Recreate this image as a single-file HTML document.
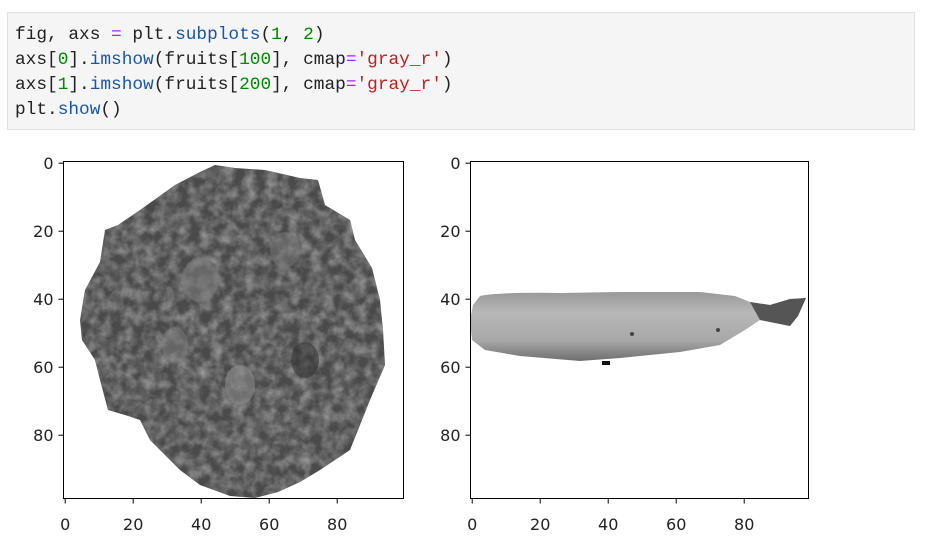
<!DOCTYPE html>
<html><head><meta charset="utf-8">
<style>
body{margin:0;width:928px;height:552px;background:#fff;overflow:hidden;position:relative;font-family:"Liberation Sans",sans-serif}
#code{position:absolute;left:7px;top:12px;width:908px;height:118px;background:#f5f5f5;border:1px solid #e0e0e0;box-sizing:border-box}
#code pre{margin:0;position:absolute;left:7px;top:10px;font-family:"Liberation Mono","DejaVu Sans Mono",monospace;font-size:17.8px;line-height:25px;color:#222}
.o{color:#aa22ff}.f{color:#1a56a8}.n{color:#008800}.s{color:#ba2121}
</style></head><body>
<div id="code"><pre>fig, axs <span class="o">=</span> plt.<span class="f">subplots</span>(<span class="n">1</span>, <span class="n">2</span>)
axs[<span class="n">0</span>].<span class="f">imshow</span>(fruits[<span class="n">100</span>], cmap<span class="o">=</span><span class="s">'gray_r'</span>)
axs[<span class="n">1</span>].<span class="f">imshow</span>(fruits[<span class="n">200</span>], cmap<span class="o">=</span><span class="s">'gray_r'</span>)
plt.<span class="f">show</span>()</pre></div>
<svg id="fig" width="928" height="552" style="position:absolute;left:0;top:0">
<defs>
<filter id="tex" x="0" y="0" width="100%" height="100%">
<feTurbulence type="fractalNoise" baseFrequency="0.09" numOctaves="3" seed="4" result="n"/>
<feColorMatrix in="n" type="matrix" values="0 0 0 0 0  0 0 0 0 0  0 0 0 0 0  0 0 0 -1.6 1.1" result="a"/>
<feComposite in="SourceGraphic" in2="a" operator="in" result="t"/>
<feMerge><feMergeNode in="t"/></feMerge>
</filter>
<linearGradient id="bg" x1="0" y1="0" x2="0" y2="1">
<stop offset="0" stop-color="#999"/><stop offset="0.3" stop-color="#b8b8b8"/><stop offset="0.7" stop-color="#a8a8a8"/><stop offset="1" stop-color="#6e6e6e"/>
</linearGradient>
</defs>
<g id="ax0">
<g>
<path d="M140,210 L175,185 L200,172 L215,165 L235,168 L265,170 L300,178 L318,180 L325,205 L350,220 L355,240 L372,268 L380,300 L383,330 L385,365 L370,400 L358,430 L350,450 L320,470 L300,482 L278,492 L255,498 L230,496 L200,485 L180,470 L165,455 L150,440 L140,420 L125,415 L108,410 L100,380 L95,360 L82,340 L80,320 L85,290 L100,262 L105,230 L118,225 Z" fill="#4a4a4a"/>
<path d="M140,210 L175,185 L200,172 L215,165 L235,168 L265,170 L300,178 L318,180 L325,205 L350,220 L355,240 L372,268 L380,300 L383,330 L385,365 L370,400 L358,430 L350,450 L320,470 L300,482 L278,492 L255,498 L230,496 L200,485 L180,470 L165,455 L150,440 L140,420 L125,415 L108,410 L100,380 L95,360 L82,340 L80,320 L85,290 L100,262 L105,230 L118,225 Z" fill="#9a9a9a" filter="url(#tex)"/>
<ellipse cx="200" cy="280" rx="18" ry="22" fill="#7a7a7a" opacity="0.6"/>
<ellipse cx="240" cy="385" rx="15" ry="20" fill="#8a8a8a" opacity="0.6"/>
<ellipse cx="175" cy="345" rx="13" ry="18" fill="#808080" opacity="0.5"/>
<ellipse cx="285" cy="250" rx="15" ry="18" fill="#777" opacity="0.5"/>
<ellipse cx="305" cy="360" rx="14" ry="18" fill="#2e2e2e" opacity="0.5"/>
</g>
<rect x="63.5" y="161.5" width="340" height="337" fill="none" stroke="#000" stroke-width="1"/>
</g>
<g id="ax1">
<g>
<path d="M480,296 Q500,292 560,293 L620,292 L700,292 L735,296 L750,302 L770,305 L790,299 L806,298 L798,316 L790,326 L775,323 L760,320 L745,330 L720,345 L680,352 L620,358 L580,361 L520,356 L485,350 L472,340 L470,320 L473,305 Z" fill="url(#bg)"/>
<path d="M750,302 L770,305 L790,299 L806,298 L798,316 L790,326 L775,323 L760,320 Z" fill="#555"/>
<rect x="602" y="361" width="8" height="4" fill="#111"/>
<circle cx="632" cy="334" r="2" fill="#444"/><circle cx="718" cy="330" r="2" fill="#444"/>
</g>
<rect x="470.5" y="161.5" width="338" height="337" fill="none" stroke="#000" stroke-width="1"/>
</g>
<g id="ticks" font-family="DejaVu Sans, Liberation Sans, sans-serif" font-size="16" fill="#222"></g>
</svg>
<script>
const tickVals=[0,20,40,60,80];
const axesList=[{x0:63.5,y0:161.5,name:'left'},{x0:470.5,y0:161.5,name:'right'}];
const unit=3.4;
const NS='http://www.w3.org/2000/svg';
const g=document.getElementById('ticks');
function mk(t,a){const e=document.createElementNS(NS,t);for(const k in a)e.setAttribute(k,a[k]);g.appendChild(e);return e;}
axesList.forEach(ax=>{
  tickVals.forEach(v=>{
    const y=ax.y0+(v+0.5)*unit, x=ax.x0+(v+0.5)*unit;
    const yl=mk('line',{x1:ax.x0-5,x2:ax.x0,y1:y,y2:y,stroke:'#000'});
    
    
    const yt=mk('text',{x:ax.x0-10,y:y+6,'text-anchor':'end'});yt.textContent=v;
    
    
    const xl=mk('line',{x1:x,x2:x,y1:498.5,y2:503.5,stroke:'#000'});
    
    
    const xt=mk('text',{x:x,y:530,'text-anchor':'middle'});xt.textContent=v;
    
    
  });
});
</script>
</body></html>
